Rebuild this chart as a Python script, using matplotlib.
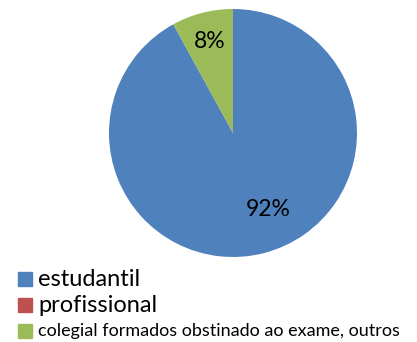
import matplotlib
matplotlib.use('Agg')
import matplotlib.pyplot as plt

plt.rcParams['font.family'] = ['Lato', 'DejaVu Sans']

categories = ['estudantil', 'profissional', 'colegial formados obstinado ao exame, outros']
shares = [92, 0, 8]
colors = ['#4F81BD', '#C0504D', '#9BBB59']

fig = plt.figure(figsize=(4.17, 3.42), dpi=100)

# pie area in pixels: centre (233, 133), radius 124
W, H = 417, 342
cx, cy, r = 233, 133, 124
ax = fig.add_axes([(cx - r) / W, (H - cy - r) / H, 2 * r / W, 2 * r / H])

def pct(p):
    return '%d%%' % round(p) if p > 0.5 else ''

wedges, texts, autotexts = ax.pie(shares, colors=colors, startangle=90,
                                  counterclock=False, autopct=pct,
                                  pctdistance=0.76, radius=1.0,
                                  textprops={'fontsize': 16.5, 'color': 'black'})
ax.set_xlim(-1, 1)
ax.set_ylim(-1, 1)
ax.set_aspect('equal')

# label placement for the big slice
autotexts[0].set_position((0.28, -0.62))
autotexts[2].set_position((-0.19, 0.74))

# legend rows, each with its own text size
sizes = [17, 17, 13]
ys = [279, 305, 331]
for cat, col, fs, y in zip(categories, colors, sizes, ys):
    fig.patches.append(plt.Rectangle((18 / W, 1 - (y + 7) / H), 14 / W, 14 / H,
                                     transform=fig.transFigure, color=col))
    fig.text(38 / W, 1 - y / H, cat, fontsize=fs, va='center', ha='left')

fig.savefig('out.png', dpi=100)
